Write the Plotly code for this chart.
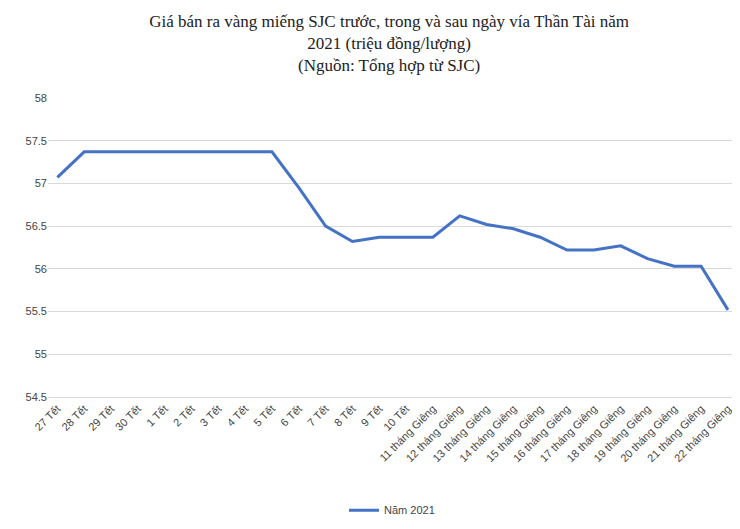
import plotly.graph_objects as go

categories = ["27 Tết","28 Tết","29 Tết","30 Tết","1 Tết","2 Tết","3 Tết","4 Tết","5 Tết",
              "6 Tết","7 Tết","8 Tết","9 Tết","10 Tết",
              "11 tháng Giêng","12 tháng Giêng","13 tháng Giêng","14 tháng Giêng","15 tháng Giêng",
              "16 tháng Giêng","17 tháng Giêng","18 tháng Giêng","19 tháng Giêng","20 tháng Giêng",
              "21 tháng Giêng","22 tháng Giêng"]
values = [57.07,57.37,57.37,57.37,57.37,57.37,57.37,57.37,57.37,
          56.95,56.5,56.32,56.37,56.37,
          56.37,56.62,56.52,56.47,56.37,56.22,56.22,56.27,56.12,56.03,56.03,55.52]
y_ticks = [54.5,55,55.5,56,56.5,57,57.5,58]

fig = go.Figure(go.Scatter(x=categories, y=values, mode="lines", name="Năm 2021",
                           line=dict(color="#4472C4", width=3)))
fig.update_layout(
    width=740, height=529, plot_bgcolor="white", paper_bgcolor="white",
    margin=dict(l=40, r=12, t=90, b=136),
    title=dict(text="Giá bán ra vàng miếng SJC trước, trong và sau ngày vía Thần Tài năm<br>2021 (triệu đồng/lượng)<br>(Nguồn: Tổng hợp từ SJC)",
               x=0.515, xanchor="center", y=0.965, yanchor="top",
               font=dict(family="Liberation Serif", size=17, color="#222")),
    showlegend=True,
    legend=dict(orientation="h", x=0.5, xanchor="center", y=-0.33, yanchor="top",
                font=dict(family="Liberation Sans", size=11, color="#444")),
    font=dict(family="Liberation Sans", size=11, color="#444"),
)
fig.update_xaxes(type="category", tickangle=-45, showgrid=False, showline=True,
                 linecolor="#d9d9d9", ticks="", range=[-0.35, 25.3])
fig.update_yaxes(range=[54.5, 58], tickvals=y_ticks, ticktext=[str(v) for v in y_ticks],
                 showgrid=True, gridcolor="#d9d9d9", zeroline=False, ticks="")
fig.write_html("out.html")
